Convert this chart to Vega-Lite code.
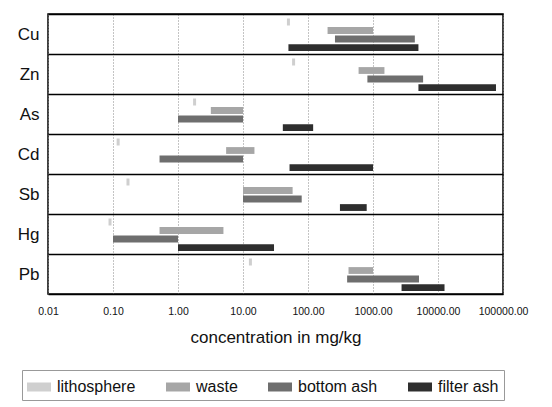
{
  "$schema": "https://vega.github.io/schema/vega-lite/v6.json",
  "width": 455,
  "height": 280,
  "autosize": {"type": "none"},
  "padding": {"left": 48, "top": 14, "right": 49, "bottom": 113},
  "background": "white",
  "config": {
    "font": "Liberation Sans",
    "view": {"stroke": "black", "strokeWidth": 1.5}
  },
  "data": {
    "values": [
      {"element": "Cu", "category": "lithosphere", "lo": 50},
      {"element": "Cu", "category": "waste", "lo": 200, "hi": 1000},
      {"element": "Cu", "category": "bottom ash", "lo": 260, "hi": 4400},
      {"element": "Cu", "category": "filter ash", "lo": 50, "hi": 5000},
      {"element": "Zn", "category": "lithosphere", "lo": 60},
      {"element": "Zn", "category": "waste", "lo": 600, "hi": 1500},
      {"element": "Zn", "category": "bottom ash", "lo": 820, "hi": 5900},
      {"element": "Zn", "category": "filter ash", "lo": 5000, "hi": 78000},
      {"element": "As", "category": "lithosphere", "lo": 1.8},
      {"element": "As", "category": "waste", "lo": 3.2, "hi": 10},
      {"element": "As", "category": "bottom ash", "lo": 1, "hi": 10},
      {"element": "As", "category": "filter ash", "lo": 41, "hi": 120},
      {"element": "Cd", "category": "lithosphere", "lo": 0.12},
      {"element": "Cd", "category": "waste", "lo": 5.5, "hi": 15},
      {"element": "Cd", "category": "bottom ash", "lo": 0.52, "hi": 10},
      {"element": "Cd", "category": "filter ash", "lo": 52, "hi": 1000},
      {"element": "Sb", "category": "lithosphere", "lo": 0.17},
      {"element": "Sb", "category": "waste", "lo": 10, "hi": 58},
      {"element": "Sb", "category": "bottom ash", "lo": 10, "hi": 80},
      {"element": "Sb", "category": "filter ash", "lo": 310, "hi": 800},
      {"element": "Hg", "category": "lithosphere", "lo": 0.09},
      {"element": "Hg", "category": "waste", "lo": 0.52, "hi": 5},
      {"element": "Hg", "category": "bottom ash", "lo": 0.1, "hi": 1},
      {"element": "Hg", "category": "filter ash", "lo": 1, "hi": 30},
      {"element": "Pb", "category": "lithosphere", "lo": 13},
      {"element": "Pb", "category": "waste", "lo": 420, "hi": 1000},
      {"element": "Pb", "category": "bottom ash", "lo": 400, "hi": 5100},
      {"element": "Pb", "category": "filter ash", "lo": 2750, "hi": 12600}
    ]
  },
  "encoding": {
    "y": {
      "field": "element",
      "type": "nominal",
      "sort": ["Cu", "Zn", "As", "Cd", "Sb", "Hg", "Pb"],
      "scale": {"paddingInner": 0, "paddingOuter": 0},
      "axis": {
        "title": null,
        "ticks": false,
        "domain": false,
        "labelFontSize": 17,
        "labelColor": "#111",
        "labelPadding": 9,
        "grid": true,
        "gridColor": "black",
        "gridWidth": 1.3,
        "tickBand": "extent"
      }
    },
    "yOffset": {
      "field": "category",
      "type": "nominal",
      "sort": ["lithosphere", "waste", "bottom ash", "filter ash"],
      "scale": {"paddingInner": 0.2, "paddingOuter": 0.45, "align": 0.6}
    },
    "x": {
      "field": "lo",
      "type": "quantitative",
      "scale": {"type": "log", "domain": [0.01, 100000], "nice": false},
      "axis": {
        "values": [0.01, 0.1, 1, 10, 100, 1000, 10000, 100000],
        "format": ".2f",
        "labelOverlap": false,
        "labelFlush": false,
        "labelFontSize": 10.5,
        "labelColor": "#111",
        "labelPadding": 12,
        "ticks": false,
        "domain": false,
        "grid": true,
        "gridColor": "#888",
        "gridDash": [1, 2],
        "title": "concentration in mg/kg",
        "titleFontSize": 17,
        "titleFontWeight": "normal",
        "titleColor": "#111",
        "titlePadding": 13
      }
    },
    "color": {
      "field": "category",
      "type": "nominal",
      "scale": {
        "domain": ["lithosphere", "waste", "bottom ash", "filter ash"],
        "range": ["#cfcfcf", "#a6a6a6", "#6e6e6e", "#2e2e2e"]
      },
      "legend": {
        "title": null,
        "orient": "none",
        "legendX": -26,
        "legendY": 356,
        "direction": "horizontal",
        "symbolType": "M-1,-0.375H1V0.375H-1Z",
        "symbolSize": 576,
        "symbolStrokeWidth": 0,
        "symbolOpacity": 1,
        "labelFontSize": 16,
        "labelColor": "#111",
        "labelOffset": 6,
        "columnPadding": 30,
        "padding": 5,
        "strokeColor": "#999",
        "fillColor": "white"
      }
    }
  },
  "layer": [
    {
      "transform": [{"filter": "datum.category != 'lithosphere'"}],
      "mark": {"type": "bar"},
      "encoding": {"x2": {"field": "hi"}}
    },
    {
      "transform": [{"filter": "datum.category == 'lithosphere'"}],
      "mark": {"type": "tick", "thickness": 3, "size": 7, "opacity": 1}
    }
  ]
}
